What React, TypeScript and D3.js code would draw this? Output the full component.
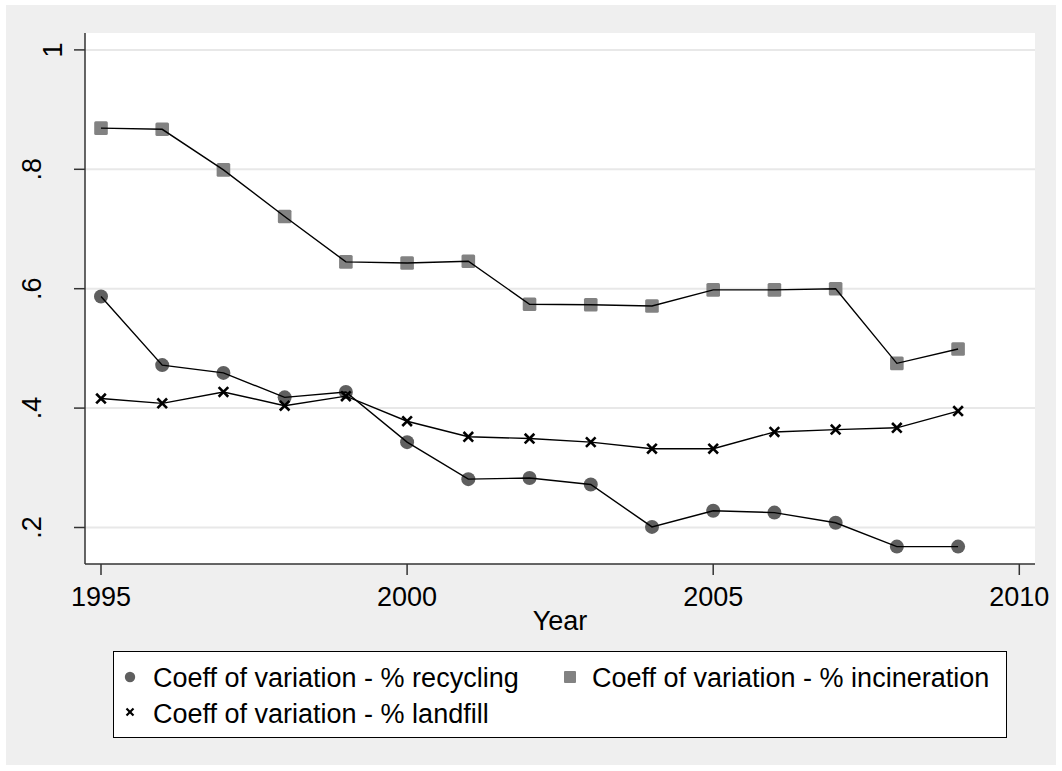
import React from "react";
import * as d3 from "d3";

const years = [1995, 1996, 1997, 1998, 1999, 2000, 2001, 2002, 2003, 2004, 2005, 2006, 2007, 2008, 2009];
const recycling = [0.587, 0.472, 0.459, 0.418, 0.427, 0.343, 0.281, 0.283, 0.272, 0.201, 0.228, 0.225, 0.208, 0.168, 0.168];
const incineration = [0.869, 0.867, 0.799, 0.721, 0.645, 0.643, 0.646, 0.574, 0.573, 0.571, 0.598, 0.598, 0.6, 0.475, 0.499];
const landfill = [0.416, 0.408, 0.427, 0.404, 0.42, 0.378, 0.352, 0.349, 0.343, 0.332, 0.332, 0.36, 0.364, 0.367, 0.395];

const xTicks = [1995, 2000, 2005, 2010];
const yTicks = [0.2, 0.4, 0.6, 0.8, 1];
const yTickLabels = [".2", ".4", ".6", ".8", "1"];
const xTitle = "Year";
const legendLabels = [
  "Coeff of variation - % recycling",
  "Coeff of variation - % incineration",
  "Coeff of variation - % landfill",
];

const W = 1062;
const H = 771;
const FONT = "'Liberation Sans', Arial, Helvetica, sans-serif";
const FS = 27;

export default function App() {
  const plotL = 85, plotR = 1035, plotT = 33, plotB = 564;
  const x = d3.scaleLinear().domain([1995, 2010]).range([101, 1019.3]);
  const y = d3.scaleLinear().domain([0.2, 1]).range([527.5, 49.9]);
  const line = d3.line<number>().x((_, i) => x(years[i])).y((v) => y(v));

  const circleColor = "#5f5f5f";
  const squareColor = "#828282";

  const xMark = (cx: number, cy: number, s: number, sw: number, key: string) => (
    <g key={key} stroke="#000" strokeWidth={sw} strokeLinecap="butt">
      <line x1={cx - s} y1={cy - s} x2={cx + s} y2={cy + s} />
      <line x1={cx - s} y1={cy + s} x2={cx + s} y2={cy - s} />
    </g>
  );

  return (
    <svg width={W} height={H} style={{ position: "absolute", left: 0, top: 0, fontFamily: FONT }}>
      <rect x={0} y={0} width={W} height={H} fill="#ffffff" />
      <rect x={6} y={5} width={1050} height={760} fill="#efefef" />
      <rect x={plotL} y={plotT} width={plotR - plotL} height={plotB - plotT} fill="#ffffff" />
      {yTicks.map((t) => (
        <line key={"g" + t} x1={plotL} x2={plotR} y1={y(t)} y2={y(t)} stroke="#e8e8e8" strokeWidth={2} />
      ))}
      <line x1={plotL} x2={plotL} y1={plotT} y2={plotB} stroke="#333" strokeWidth={1.5} />
      <line x1={plotL} x2={plotR} y1={plotB} y2={plotB} stroke="#333" strokeWidth={1.5} />
      {yTicks.map((t, i) => (
        <g key={"yt" + t}>
          <line x1={plotL - 11} x2={plotL} y1={y(t)} y2={y(t)} stroke="#333" strokeWidth={1.5} />
          <text
            transform={`translate(${yTickLabels[i].startsWith(".") ? 41 : 62},${y(t)}) rotate(-90)`}
            textAnchor="middle"
            fontSize={FS}
            fill="#000"
          >
            {yTickLabels[i]}
          </text>
        </g>
      ))}
      {xTicks.map((t) => (
        <g key={"xt" + t}>
          <line x1={x(t)} x2={x(t)} y1={plotB} y2={plotB + 11} stroke="#333" strokeWidth={1.5} />
          <text x={x(t)} y={606} textAnchor="middle" fontSize={FS} fill="#000">
            {t}
          </text>
        </g>
      ))}
      <text x={(plotL + plotR) / 2} y={630} textAnchor="middle" fontSize={FS} fill="#000">
        {xTitle}
      </text>

      {recycling.map((v, i) => (
        <circle key={"c" + i} cx={x(years[i])} cy={y(v)} r={7} fill={circleColor} />
      ))}
      <path d={line(recycling) || ""} fill="none" stroke="#000" strokeWidth={1.4} />
      {incineration.map((v, i) => (
        <rect key={"s" + i} x={x(years[i]) - 6.8} y={y(v) - 6.8} width={13.6} height={13.6} rx={1.5} fill={squareColor} />
      ))}
      <path d={line(incineration) || ""} fill="none" stroke="#000" strokeWidth={1.4} />
      <path d={line(landfill) || ""} fill="none" stroke="#000" strokeWidth={1.4} />
      {landfill.map((v, i) => xMark(x(years[i]), y(v), 4.8, 2.6, "x" + i))}

      <rect x={113.5} y={651.5} width={893} height={86} fill="#ffffff" stroke="#000" strokeWidth={1} />
      <circle cx={130} cy={677} r={5.2} fill={circleColor} />
      <text x={153} y={687} fontSize={FS} fill="#000">{legendLabels[0]}</text>
      <rect x={564} y={671} width={12} height={12} rx={1} fill={squareColor} />
      <text x={592} y={687} fontSize={FS} fill="#000">{legendLabels[1]}</text>
      {xMark(130, 712, 3.5, 2.2, "lx")}
      <text x={153} y={723} fontSize={FS} fill="#000">{legendLabels[2]}</text>
    </svg>
  );
}
